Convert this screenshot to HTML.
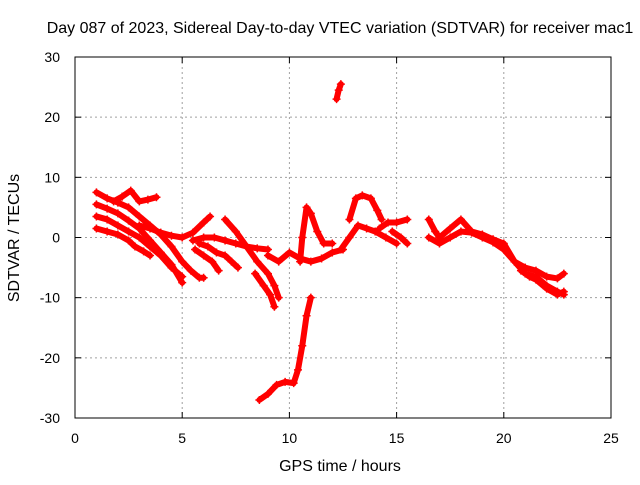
<!DOCTYPE html>
<html><head><meta charset="utf-8"><style>
body{margin:0;background:#fff;font-family:"Liberation Sans",sans-serif}
svg text{font-family:"Liberation Sans",sans-serif;font-size:14px;fill:#000}
svg text.big{font-size:16px}
</style></head><body>
<svg id="chart" width="640" height="480" viewBox="0 0 640 480">
<text class="big" x="340" y="33" text-anchor="middle">Day 087 of 2023, Sidereal Day-to-day VTEC variation (SDTVAR) for receiver mac1</text>
<g id="grid"></g>
<g id="ticks"></g>
<g id="series"></g>
<rect x="75" y="57" width="536" height="361" fill="none" stroke="#000" stroke-width="1"/>
<text class="big" x="340" y="471" text-anchor="middle">GPS time / hours</text>
<text class="big" x="0" y="0" text-anchor="middle" transform="translate(19,238) rotate(-90)">SDTVAR / TECUs</text>
</svg>
<script>
const xTicks=[0,5,10,15,20,25];
const yTicks=[-30,-20,-10,0,10,20,30];
const tracks=[
[[1.0,7.5],[1.5,6.5],[2.0,5.8],[2.5,5],[3.0,3.5],[3.5,2],[4.0,0.5],[4.5,-1.5],[5.0,-4],[5.4,-5.5],[5.8,-6.7],[6.0,-6.7]],
[[1.0,5.5],[1.5,4.8],[2.0,4],[2.5,2.8],[3.0,1.5],[3.5,-0.5],[4.0,-2.5],[4.5,-4.5],[5.0,-7.5]],
[[1.0,3.5],[1.5,3],[2.0,2],[2.5,1],[3.0,0],[3.5,-1.5],[4.0,-3],[4.5,-5],[5.0,-6.5]],
[[1.0,1.5],[1.5,1],[2.0,0.5],[2.5,-0.5],[2.8,-1.5],[3.2,-2.3],[3.5,-3]],
[[1.8,6],[2.2,6.8],[2.6,7.8],[3.0,6],[3.4,6.3],[3.8,6.7]],
[[3.0,2],[3.5,1.5],[4.0,0.8],[4.5,0.3],[5.0,0],[5.5,0.8],[6.0,2.5],[6.3,3.5]],
[[5.5,-0.5],[6.0,0],[6.5,0],[7.0,-0.5],[7.5,-1],[8.0,-1.5],[8.5,-1.8],[9.0,-2]],
[[5.8,-1],[6.2,-1.5],[6.6,-2.5],[7.0,-3],[7.3,-4],[7.6,-5]],
[[5.6,-2],[6.0,-3],[6.4,-4],[6.7,-5.5]],
[[7.0,3],[7.5,1],[8.0,-1.5],[8.5,-4],[9.0,-6],[9.3,-8],[9.5,-10]],
[[8.4,-6],[8.8,-8],[9.1,-9.5],[9.3,-11.5]],
[[8.6,-27],[9.0,-26],[9.4,-24.5],[9.8,-24],[10.2,-24.2],[10.4,-22],[10.6,-18],[10.8,-13],[11.0,-10]],
[[9.0,-3],[9.5,-4],[10.0,-2.5],[10.5,-3.5],[11.0,-4],[11.5,-3.5],[12.0,-2.5],[12.5,-2]],
[[10.5,-4],[10.6,0],[10.8,5],[11.0,4],[11.3,1],[11.6,-1],[12.0,-1]],
[[12.2,23],[12.3,24.5],[12.4,25.5]],
[[12.4,-2],[12.8,0],[13.2,2],[13.6,1.5],[14.0,1],[14.5,0],[15.0,-1]],
[[12.8,3],[13.1,6.5],[13.4,7],[13.8,6.5],[14.1,4.5],[14.3,3]],
[[14.2,1.5],[14.6,2.5],[15.0,2.5],[15.5,3]],
[[14.8,1],[15.2,0],[15.5,-1]],
[[16.5,3],[16.8,1],[17.0,0],[17.5,1.5],[18.0,3],[18.5,1],[19.0,0.5],[19.5,-0.3],[20.0,-1],[20.5,-4],[21.0,-6],[21.5,-6.5],[22.0,-8],[22.5,-9],[22.8,-9.5]],
[[16.5,0],[17.0,-1],[17.5,0],[18.0,1],[18.5,0.8],[19.0,0],[19.5,-0.8],[20.0,-2],[20.5,-4],[21.0,-5],[21.5,-5.5],[22.0,-6.5],[22.5,-6.8],[22.8,-6]],
[[20.8,-5.5],[21.2,-6.5],[21.5,-7],[22.0,-8.5],[22.5,-9.5],[22.8,-9]]
];
const NS='http://www.w3.org/2000/svg';
const X0=75,X1=611,Y0=418,Y1=57;
function sx(v){return X0+(v-0)/(25-0)*(X1-X0);}
function sy(v){return Y0-(v+30)/60*(Y0-Y1);}
const grid=document.getElementById('grid'),ticks=document.getElementById('ticks'),series=document.getElementById('series');
function mk(tag,attrs,parent){const e=document.createElementNS(NS,tag);for(const k in attrs)e.setAttribute(k,attrs[k]);parent.appendChild(e);return e;}
xTicks.forEach(v=>{const x=sx(v);
 if(v>0&&v<25){const g=mk('line',{x1:x,x2:x,y1:Y1,y2:Y0,stroke:'#a0a0a0','stroke-dasharray':'2,3'},grid);
 
 }
 mk('line',{x1:x,x2:x,y1:Y0,y2:Y0-6,stroke:'#000'},ticks);
 mk('line',{x1:x,x2:x,y1:Y1,y2:Y1+6,stroke:'#000'},ticks);
 const t=mk('text',{x:x,y:443,'text-anchor':'middle'},ticks);t.textContent=v;
 
 
});
yTicks.forEach(v=>{const y=sy(v);
 if(v>-30&&v<30){const g=mk('line',{x1:X0,x2:X1,y1:y,y2:y,stroke:'#a0a0a0','stroke-dasharray':'2,3'},grid);
 
 }
 mk('line',{x1:X0,x2:X0+6,y1:y,y2:y,stroke:'#000'},ticks);
 mk('line',{x1:X1,x2:X1-6,y1:y,y2:y,stroke:'#000'},ticks);
 const t=mk('text',{x:60,y:y+5,'text-anchor':'end'},ticks);t.textContent=v;
 
 
});
tracks.forEach(tr=>{
 const p=mk('polyline',{points:tr.map(d=>sx(d[0])+','+sy(d[1])).join(' '),fill:'none',stroke:'#ff0000','stroke-width':6,'stroke-linejoin':'round','stroke-linecap':'round'},series);
 
 
 tr.forEach(d=>{const x=sx(d[0]),y=sy(d[1]);
  const m=mk('path',{d:`M${x-4},${y}H${x+4}M${x},${y-4}V${y+4}`,stroke:'#ff0000','stroke-width':1.5},series);
  
  
 });
});
</script>
</body></html>
